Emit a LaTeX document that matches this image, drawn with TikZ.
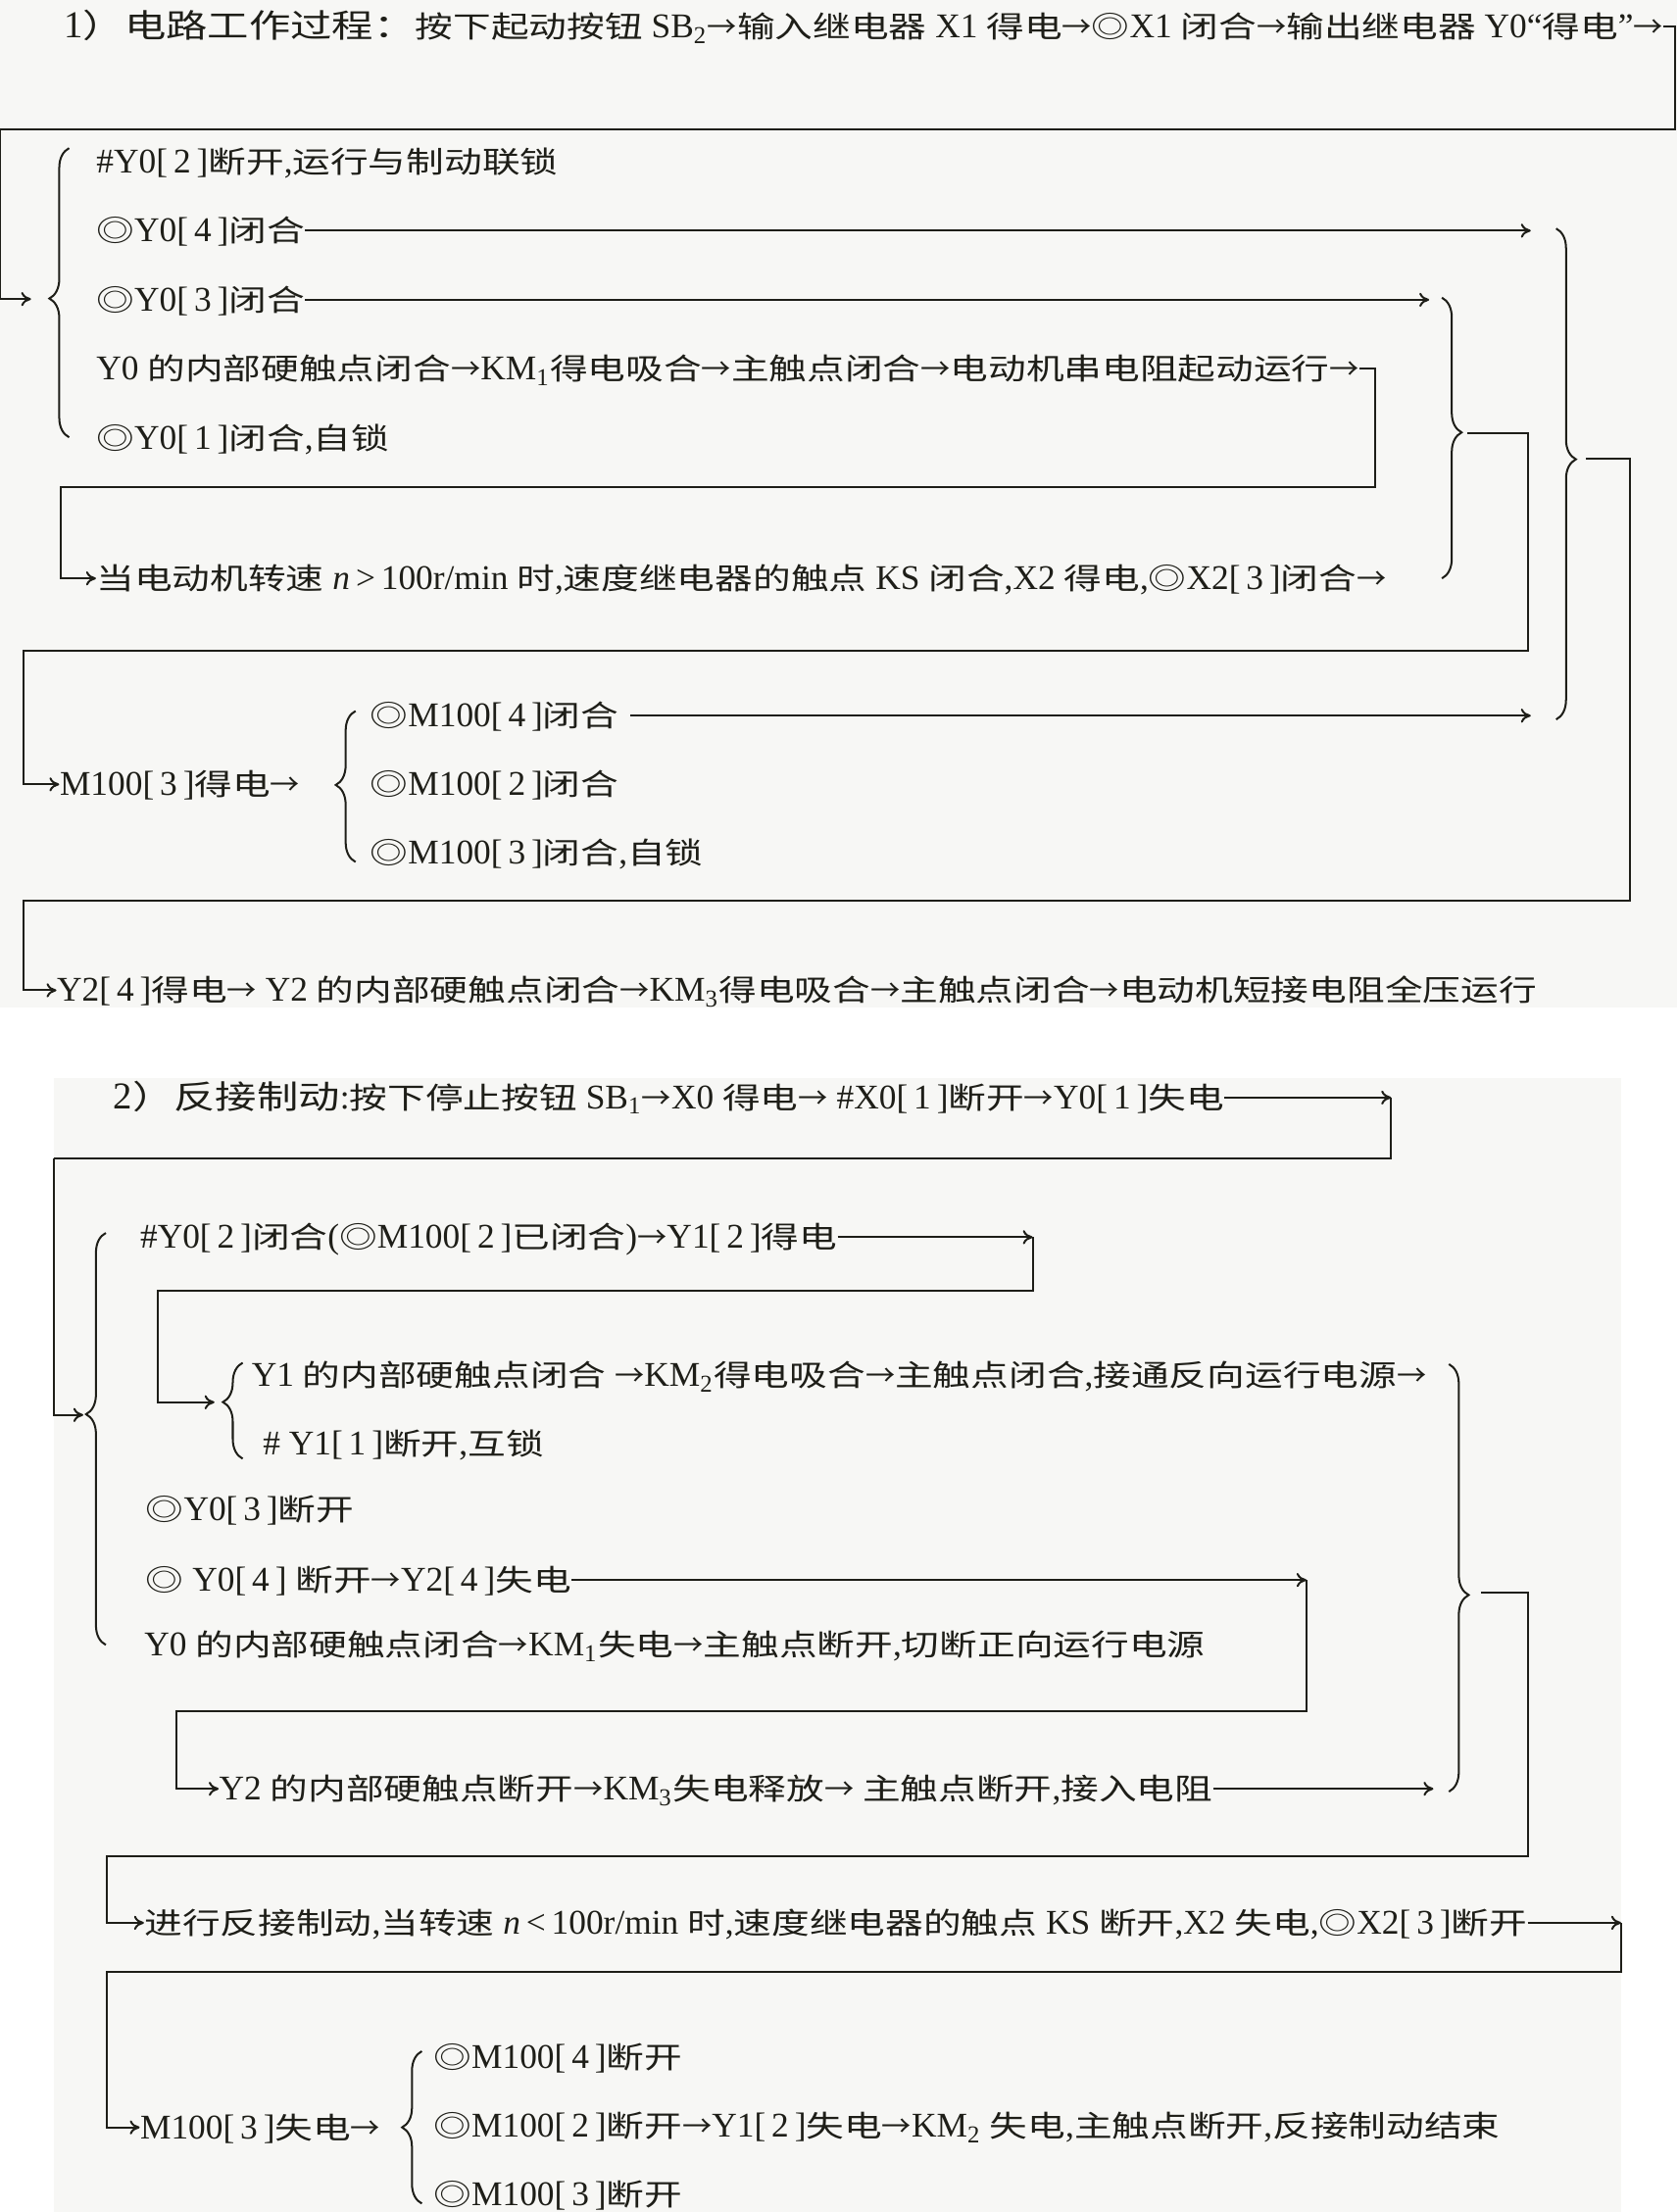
\documentclass[tikz,border=0pt]{standalone}
\usepackage{fontspec}
\setmainfont{Liberation Serif}[Scale=1.17]
\newfontfamily\cjkfont{Noto Sans CJK SC}[FakeStretch=1.28]
\newfontfamily\cjkplain{Noto Sans CJK SC}
\usetikzlibrary{arrows.meta,decorations.pathreplacing}
\definecolor{Ink}{HTML}{1E1E18}
\definecolor{Paper}{HTML}{F7F7F5}

\XeTeXinterchartokenstate=1
\newXeTeXintercharclass\cjkclass
\makeatletter
\count@="4E00
\loop\XeTeXcharclass\count@=\cjkclass\advance\count@\@ne\ifnum\count@<"A000\repeat
\count@="FF00
\loop\XeTeXcharclass\count@=\cjkclass\advance\count@\@ne\ifnum\count@<"FF5F\repeat
\makeatother
\XeTeXcharclass"25CE=\cjkclass
\let\cjkswitch\cjkfont
\XeTeXinterchartoks 0 \cjkclass={\begingroup\cjkswitch}
\XeTeXinterchartoks 4095 \cjkclass={\begingroup\cjkswitch}
\XeTeXinterchartoks \cjkclass 0={\endgroup}
\XeTeXinterchartoks \cjkclass 4095={\endgroup}

\newcommand\pin[1]{[\,#1\,]}
\newcommand\hbig{\fontsize{11.5}{14}\selectfont}
\catcode`\→=\active
\def→{{\cjkplain\char"2192}}

\begin{document}
\begin{tikzpicture}[x=0.5pt,y=-0.5pt,font=\fontsize{10.5}{12}\selectfont,
    txt/.style={anchor=west,inner sep=0pt,text height=8pt,text depth=0pt,text=Ink},
    wire/.style={draw=Ink,line width=0.7pt},
    feed/.style={wire,-{To[length=3.5pt,width=5pt]}},
    brc/.style={wire,decorate,decoration={brace,amplitude=7pt,aspect=#1}},
    brc/.default=0.5]
  \useasboundingbox (0,0) rectangle (1189,1568);
  \fill[Paper] (0,0) rectangle (1189,714);
  \fill[Paper] (38,764) rectangle (1149,1568);

  % starting
  \node[txt] (h1) at (45,19) {{\hbig 1）电路工作过程：}按下起动按钮 SB\textsubscript{2}→输入继电器 X1 得电→◎X1 闭合→输出继电器 Y0“得电”→};
  \foreach \txt [count=\i] in {{\#Y0\pin{2}断开,运行与制动联锁},{◎Y0\pin{4}闭合},{◎Y0\pin{3}闭合},
      {Y0 的内部硬触点闭合→KM\textsubscript{1}得电吸合→主触点闭合→电动机串电阻起动运行→},{◎Y0\pin{1}闭合,自锁}}
    \node[txt] (a\i) at (68,{65.5+49*\i}) {\txt};
  \node[txt] (a6) at (68,410) {当电动机转速 \textit{n}\,>\,100r/min 时,速度继电器的触点 KS 闭合,X2 得电,◎X2\pin{3}闭合→};
  \node[txt] (b0) at (42,556) {M100\pin{3}得电→};
  \foreach \txt [count=\i] in {{◎M100\pin{4}闭合},{◎M100\pin{2}闭合},{◎M100\pin{3}闭合,自锁}}
    \node[txt] (b\i) at (262,{458.6+48.7*\i}) {\txt};
  \node[txt] (c1) at (40,702) {Y2\pin{4}得电→ Y2 的内部硬触点闭合→KM\textsubscript{3}得电吸合→主触点闭合→电动机短接电阻全压运行};

  \draw[brc=0.48] (49,310) -- (49,105);
  \draw[brc=0.48] (1022,211) -- (1022,410);
  \draw[brc=0.47] (1103,162) -- (1103,510);
  \draw[brc=0.51] (252,611) -- (252,504);
  \coordinate (k1) at (22,212);
  \coordinate (t2) at (1040,307);
  \coordinate (t3) at (1124,325);

  \draw[feed] (h1.east) -| (1187,91.5) -- (0,91.5) |- (k1);
  \draw[feed] (a2.east) -- (a2.east -| 1085,0);
  \draw[feed] (a3.east) -- (a3.east -| 1013,0);
  \draw[feed] ([xshift=4pt]b1.east) -- (b1.east -| 1085,0);
  \draw[feed] (a4.east) -| (975,345) -- (43,345) |- (a6.west);
  \draw[feed] (t2) -| (1083,461.5) -- (17,461.5) |- (b0.west);
  \draw[feed] (t3) -| (1155,638.5) -- (17,638.5) |- (c1.west);

  % braking
  \node[txt] (h2) at (80,778) {{\hbig 2）反接制动}:按下停止按钮 SB\textsubscript{1}→X0 得电→ \#X0\pin{1}断开→Y0\pin{1}失电};
  \node[txt] (d1) at (99,877) {\#Y0\pin{2}闭合(◎M100\pin{2}已闭合)→Y1\pin{2}得电};
  \node[txt] (d2) at (178,975) {Y1 的内部硬触点闭合 →KM\textsubscript{2}得电吸合→主触点闭合,接通反向运行电源→};
  \node[txt] (d3) at (186,1023) {\# Y1\pin{1}断开,互锁};
  \node[txt] (d4) at (103,1070) {◎Y0\pin{3}断开};
  \node[txt] (d5) at (103,1120) {◎ Y0\pin{4} 断开→Y2\pin{4}失电};
  \node[txt] (d6) at (102,1166) {Y0 的内部硬触点闭合→KM\textsubscript{1}失电→主触点断开,切断正向运行电源};
  \node[txt] (d7) at (155,1268) {Y2 的内部硬触点断开→KM\textsubscript{3}失电释放→ 主触点断开,接入电阻};
  \node[txt] (e1) at (102,1363) {进行反接制动,当转速 \textit{n}\,<\,100r/min 时,速度继电器的触点 KS 断开,X2 失电,◎X2\pin{3}断开};
  \node[txt] (f0) at (99,1508) {M100\pin{3}失电→};
  \foreach \txt [count=\i] in {{◎M100\pin{4}断开},{◎M100\pin{2}断开→Y1\pin{2}失电→KM\textsubscript{2} 失电,主触点断开,反接制动结束},{◎M100\pin{3}断开}}
    \node[txt] (f\i) at (307,{1410+48.5*\i}) {\txt};

  \draw[brc=0.56] (75,1166) -- (75,874);
  \draw[brc=0.59] (172,1034) -- (172,966);
  \draw[brc=0.54] (1027,967) -- (1027,1270);
  \draw[brc] (299,1562) -- (299,1454);
  \coordinate (k5) at (59,1003);
  \coordinate (k6) at (152,994);
  \coordinate (t7) at (1050,1129);

  \draw[feed] (h2.east) -- (h2.east -| 986,0) coordinate (q1);
  \draw[wire] (q1) |- (38,821);
  \draw[feed] (38,821) |- (k5);
  \draw[feed] (d1.east) -- (d1.east -| 732,0) coordinate (q2);
  \draw[feed] (q2) |- (112,915) |- (k6);
  \draw[feed] (d5.east) -- (d5.east -| 926,0) coordinate (q3);
  \draw[feed] (q3) |- (125,1213) |- (d7.west);
  \draw[feed] (d7.east) -- (d7.east -| 1016,0);
  \draw[feed] (t7) -| (1083,1316) -- (76,1316) |- (e1.west);
  \draw[feed] (e1.east) -- (e1.east -| 1149,0) coordinate (q4);
  \draw[feed] (q4) |- (76,1398) |- (f0.west);
\end{tikzpicture}
\end{document}
